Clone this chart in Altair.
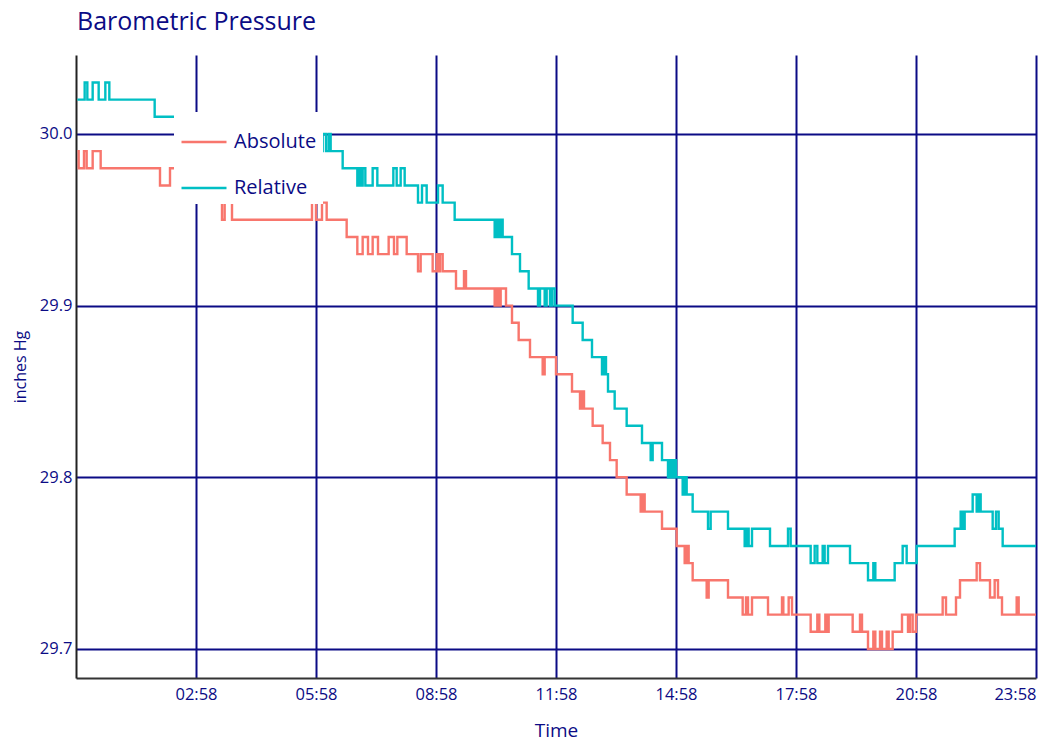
import altair as alt
import pandas as pd

NAVY = "#0b0b85"
FONT = "Open Sans"

chart_title = "Barometric Pressure"

rel_times = ["00:00", "00:11", "00:15", "00:23", "00:32", "00:42", "00:48", "01:56", "03:26", "03:52",
             "05:52", "05:58", "06:08", "06:13", "06:17", "06:20", "06:38", "07:00", "07:03", "07:05",
             "07:08", "07:12", "07:23", "07:30", "07:54", "07:59", "08:05", "08:11", "08:31", "08:37",
             "08:44", "09:01", "09:08", "09:26", "10:26", "10:29", "10:32", "10:35", "10:38", "10:52",
             "11:04", "11:17", "11:31", "11:34", "11:41", "11:44", "11:49", "11:52", "11:56", "12:23",
             "12:38", "12:52", "13:07", "13:10", "13:13", "13:16", "13:26", "13:44", "14:07", "14:20",
             "14:23", "14:37", "14:46", "14:49", "14:52", "14:55", "14:58", "15:08", "15:11", "15:14",
             "15:23", "15:46", "15:50", "16:16", "16:41", "16:44", "16:47", "16:52", "17:19", "17:46",
             "17:50", "18:20", "18:26", "18:30", "18:38", "18:41", "18:46", "19:19", "19:46", "19:54",
             "19:57", "20:26", "20:38", "20:44", "20:59", "21:56", "22:05", "22:08", "22:11", "22:23",
             "22:29", "22:32", "22:35", "22:53", "22:58", "23:02", "23:08", "23:58"]
rel_values = [30.02, 30.03, 30.02, 30.03, 30.02, 30.03, 30.02, 30.01, 30.00, 29.99,
              30.00, 29.99, 30.00, 29.99, 30.00, 29.99, 29.98, 29.97, 29.98, 29.97,
              29.98, 29.97, 29.98, 29.97, 29.98, 29.97, 29.98, 29.97, 29.96, 29.97,
              29.96, 29.97, 29.96, 29.95, 29.94, 29.95, 29.94, 29.95, 29.94, 29.93,
              29.92, 29.91, 29.90, 29.91, 29.90, 29.91, 29.90, 29.91, 29.90, 29.89,
              29.88, 29.87, 29.86, 29.87, 29.86, 29.85, 29.84, 29.83, 29.82, 29.81,
              29.82, 29.81, 29.80, 29.81, 29.80, 29.81, 29.80, 29.79, 29.80, 29.79,
              29.78, 29.77, 29.78, 29.77, 29.76, 29.77, 29.76, 29.77, 29.76, 29.77,
              29.76, 29.75, 29.76, 29.75, 29.76, 29.75, 29.76, 29.75, 29.74, 29.75,
              29.74, 29.75, 29.76, 29.75, 29.76, 29.77, 29.78, 29.77, 29.78, 29.79,
              29.78, 29.79, 29.78, 29.77, 29.78, 29.77, 29.76, 29.76]

abs_times = ["00:00", "00:02", "00:10", "00:14", "00:23", "00:35", "02:04", "02:19", "03:04", "03:26",
             "03:37", "03:41", "03:52", "05:52", "05:58", "06:07", "06:14", "06:44", "07:00", "07:08",
             "07:16", "07:23", "07:31", "07:47", "07:55", "08:00", "08:14", "08:31", "08:35", "08:53",
             "08:59", "09:01", "09:04", "09:08", "09:28", "09:40", "09:43", "10:26", "10:29", "10:32",
             "10:35", "10:43", "10:52", "11:02", "11:19", "11:38", "11:41", "11:58", "12:22", "12:34",
             "12:37", "12:40", "12:53", "13:08", "13:19", "13:29", "13:44", "14:05", "14:08", "14:11",
             "14:37", "14:59", "15:11", "15:14", "15:17", "15:23", "15:44", "15:47", "16:16", "16:38",
             "16:43", "16:46", "16:52", "17:16", "17:37", "17:39", "17:47", "17:52", "18:20", "18:30",
             "18:33", "18:42", "18:45", "18:47", "19:23", "19:34", "19:37", "19:46", "19:54", "19:57",
             "20:04", "20:07", "20:14", "20:17", "20:23", "20:37", "20:46", "20:49", "20:53", "20:58",
             "21:38", "21:43", "21:58", "22:04", "22:29", "22:34", "22:49", "22:56", "23:01", "23:07",
             "23:29", "23:32", "23:58"]
abs_values = [29.99, 29.98, 29.99, 29.98, 29.99, 29.98, 29.97, 29.98, 29.97, 29.96,
              29.95, 29.96, 29.95, 29.96, 29.95, 29.96, 29.95, 29.94, 29.93, 29.94,
              29.93, 29.94, 29.93, 29.94, 29.93, 29.94, 29.93, 29.92, 29.93, 29.92,
              29.93, 29.92, 29.93, 29.92, 29.91, 29.92, 29.91, 29.90, 29.91, 29.90,
              29.91, 29.90, 29.89, 29.88, 29.87, 29.86, 29.87, 29.86, 29.85, 29.84,
              29.85, 29.84, 29.83, 29.82, 29.81, 29.80, 29.79, 29.78, 29.79, 29.78,
              29.77, 29.76, 29.75, 29.76, 29.75, 29.74, 29.73, 29.74, 29.73, 29.72,
              29.73, 29.72, 29.73, 29.72, 29.73, 29.72, 29.73, 29.72, 29.71, 29.72,
              29.71, 29.72, 29.71, 29.72, 29.71, 29.72, 29.71, 29.70, 29.71, 29.70,
              29.71, 29.70, 29.71, 29.70, 29.71, 29.72, 29.71, 29.72, 29.71, 29.72,
              29.73, 29.72, 29.73, 29.74, 29.75, 29.74, 29.73, 29.74, 29.73, 29.72,
              29.73, 29.72, 29.72]

series_names = ["Absolute", "Relative"]
series_colors = ["#F8766D", "#00BFC4"]
x_tick_minutes = [178, 358, 538, 718, 898, 1078, 1258, 1438]
y_ticks = [29.7, 29.8, 29.9, 30.0]


def to_minutes(s):
    h, m = s.split(":")
    return int(h) * 60 + int(m)


rows = []
for t, v in zip(abs_times, abs_values):
    rows.append({"minute": to_minutes(t), "pressure": v, "series": "Absolute"})
for t, v in zip(rel_times, rel_values):
    rows.append({"minute": to_minutes(t), "pressure": v, "series": "Relative"})
df = pd.DataFrame(rows)

lines = alt.Chart(df).mark_line(interpolate="step-after", strokeWidth=2.4, clip=True).encode(
    x=alt.X(
        "minute:Q",
        scale=alt.Scale(domain=[-2, 1438], nice=False, zero=False),
        axis=alt.Axis(
            values=x_tick_minutes,
            labelExpr="timeFormat(datetime(2000, 0, 1, 0, datum.value), '%H:%M')",
            grid=True, gridColor=NAVY, gridWidth=2, ticks=False,
            domainColor="#333333", domainWidth=2,
            labelColor=NAVY, labelFont=FONT, labelFontSize=16.5, labelPadding=8,
            title="Time", titleColor=NAVY, titleFont=FONT, titleFontSize=19,
            titleFontWeight="normal", titlePadding=19,
        ),
    ),
    y=alt.Y(
        "pressure:Q",
        scale=alt.Scale(domain=[29.6831, 30.046], nice=False, zero=False),
        axis=alt.Axis(
            values=y_ticks, format=".1f",
            grid=True, gridColor=NAVY, gridWidth=2, ticks=False,
            domainColor="#222222", domainWidth=2,
            labelColor=NAVY, labelFont=FONT, labelFontSize=16.5, labelPadding=4,
            title="inches Hg", titleColor=NAVY, titleFont=FONT, titleFontSize=16,
            titleFontWeight="normal", titlePadding=11,
        ),
    ),
    color=alt.Color(
        "series:N",
        scale=alt.Scale(domain=series_names, range=series_colors),
        title=None,
        legend=alt.Legend(
            orient="none", legendX=98, legendY=57,
            fillColor="white", padding=6, zindex=1,
            symbolType="stroke", symbolSize=2025, symbolStrokeWidth=2.5,
            labelFont=FONT, labelFontSize=20, labelColor=NAVY, labelOffset=6,
            rowPadding=12,
        ),
    ),
)

title_text = alt.Chart(pd.DataFrame({"title": [chart_title]})).mark_text(
    align="left", baseline="alphabetic", font=FONT, fontSize=25, color=NAVY
).encode(
    text="title:N",
    x=alt.value(1),
    y=alt.value(-25),
)

chart = alt.layer(lines, title_text).properties(
    width=960,
    height=623,
    autosize=alt.AutoSizeParams(type="none"),
    padding={"left": 68, "top": 47, "right": 17, "bottom": 66},
).configure_view(strokeWidth=0)

chart.save("out.html", embed_options={"renderer": "svg", "actions": False})
